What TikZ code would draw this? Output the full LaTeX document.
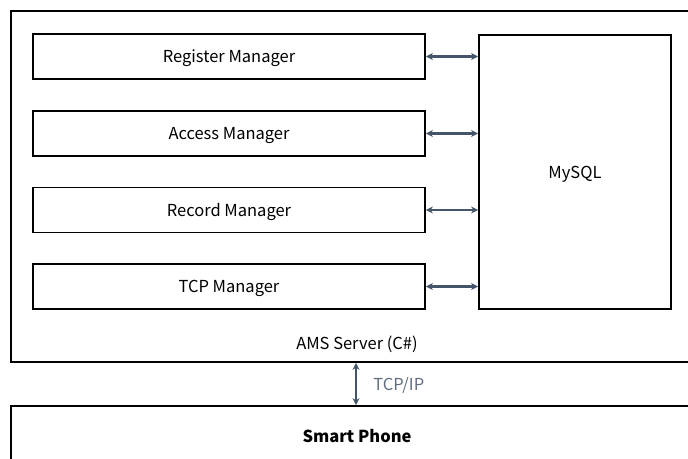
\documentclass[tikz,border=0pt]{standalone}
\usepackage{fontspec}
\setmainfont{Noto Sans CJK KR}
\usetikzlibrary{arrows.meta}

\definecolor{slate}{HTML}{44546A}
\tikzset{
    box/.style={draw=black, line width=1.8pt, minimum width=392pt, minimum height=45pt, inner sep=0pt},
    link/.style={<->, >={Stealth[length=7pt,width=7pt]}, draw=slate, line width=2.2pt},
    lbl/.style={font=\fontsize{16.5}{19}\selectfont, text height=12pt, text depth=0pt}
}

\begin{document}
\begin{tikzpicture}[x=1pt,y=-1pt]
    \useasboundingbox (0,0) rectangle (688,458);
    \clip (0,0) rectangle (688,458);
    % outer server box and phone box
    \node[box, minimum width=710pt, minimum height=351pt] (server) at (366,186.5) {};
    \node[box, minimum width=710pt, minimum height=100pt] (phone) at (366,456) {};
    \node[lbl] (amslbl) at (357,343) {AMS Server (C\#)};
    \node[lbl, font=\fontsize{16.5}{19}\selectfont\bfseries] (phonelbl) at (357,436) {Smart Phone};
    % managers
    \node[box, lbl] (reg) at (229,56.5) {Register Manager};
    \node[box, lbl] (acc) at (229,133.5) {Access Manager};
    \node[box, lbl] (rec) at (229,210) {Record Manager};
    \node[box, lbl] (tcp) at (229,286.5) {TCP Manager};
    \node[box, lbl, minimum width=192pt, minimum height=274pt] (mysql) at (575,172) {MySQL};
    % links
    \draw[link] (reg.east) -- (reg.east -| mysql.west);
    \draw[link] (acc.east) -- (acc.east -| mysql.west);
    \draw[link] (rec.east) -- (rec.east -| mysql.west);
    \draw[link] (tcp.east) -- (tcp.east -| mysql.west);
    \draw[link] ([xshift=-1pt]amslbl.center |- server.south) -- ([xshift=-1pt]amslbl.center |- phone.north)
        node[midway, right=13pt, lbl, text=slate!85] (proto) {TCP/IP};
\end{tikzpicture}
\end{document}
